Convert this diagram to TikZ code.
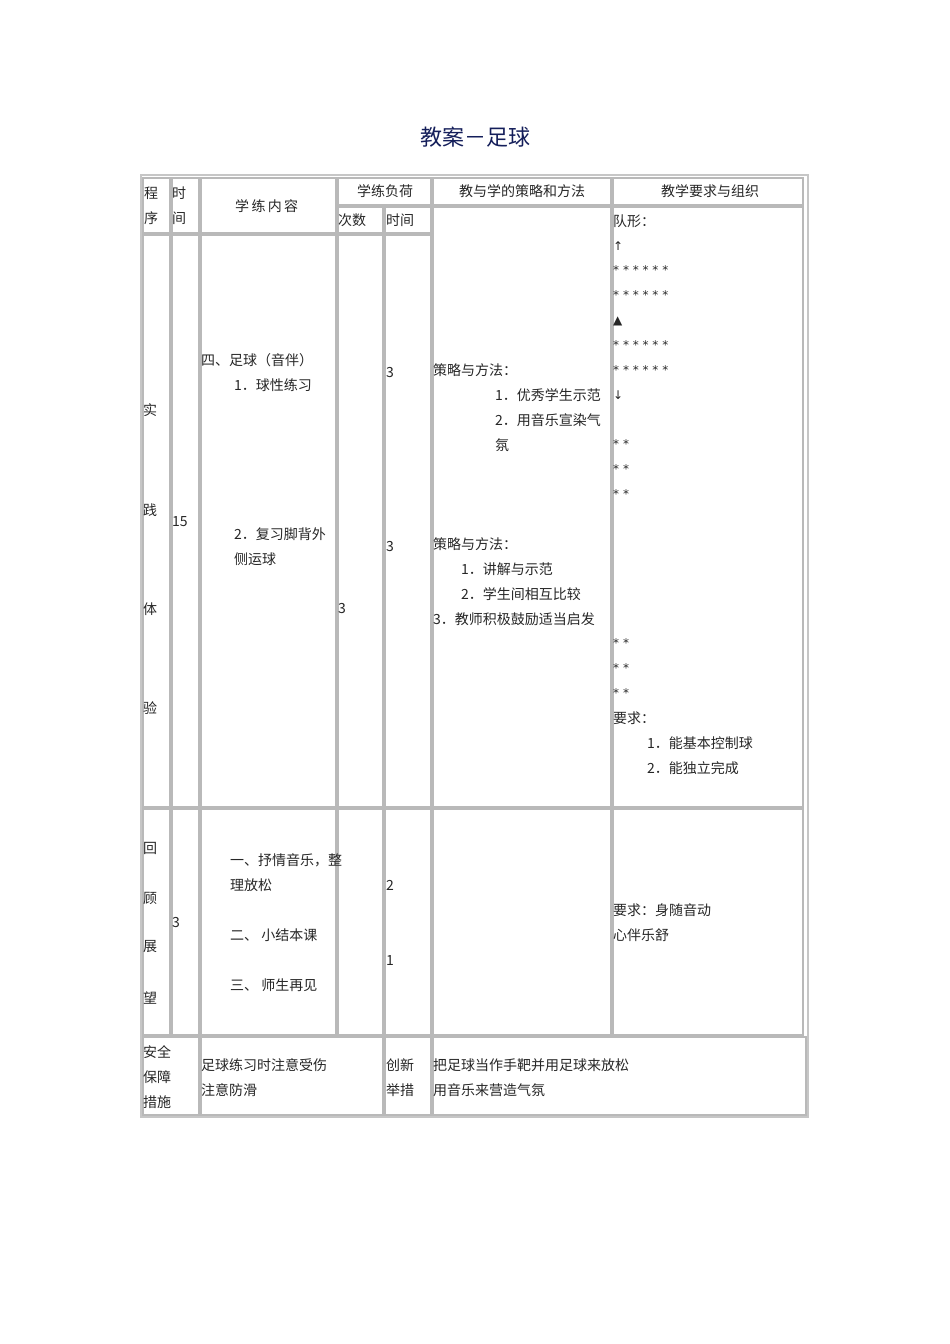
\documentclass[tikz,border=0pt]{standalone}
\usepackage{fontspec}
\setmainfont{Noto Sans CJK SC}
\newfontfamily\symf{DejaVu Sans}
\begin{document}
\begin{tikzpicture}[x=1pt,y=-1pt,
 cell/.style={draw=gray!55,line width=1.6pt},
 t/.style={anchor=west,inner sep=0pt,font=\fontsize{14}{16}\selectfont,text=black!85},
 st/.style={anchor=west,inner sep=0pt,font=\symf\fontsize{12}{14}\selectfont,text=black!85}]
\useasboundingbox (0,0) rectangle (950,1344);
\node[font=\fontsize{22}{25}\selectfont,text={rgb,255:red,20;green,30;blue,90}] (title) at (475,137) {教案－足球};
\draw[draw=gray!45,line width=1.2pt] (141,175) rectangle (808,1117);
\foreach \a/\b/\c/\d/\n in {143/178/170/233/h1,172/178/199/233/h2,201/178/336/233/h3,338/178/431/205/h4,338/207/383/233/h4a,385/207/431/233/h4b,433/178/611/205/h6,613/178/803/205/h7,433/207/611/807/b6,613/207/803/807/b7,
143/235/170/807/b1,172/235/199/807/b2,201/235/336/807/b3,338/235/383/807/b4,385/235/431/807/b5,
143/809/170/1035/c1,172/809/199/1035/c2,201/809/336/1035/c3,338/809/383/1035/c4,385/809/431/1035/c5,433/809/611/1035/c6,613/809/803/1035/c7,
143/1037/199/1115/d1,201/1037/383/1115/d3,385/1037/431/1115/d5,433/1037/806/1115/d6}
 \draw[cell] (\a,\b) rectangle (\c,\d) coordinate (\n);
\node[t] (x1) at (144,193) {程};
\node[t] (x2) at (144,218) {序};
\node[t] (x3) at (172,193) {时};
\node[t] (x4) at (172,218) {间};
\node[t] (x5) at (235,206) {学\,练\,内\,容};
\node[t] (x6) at (357,191) {学练负荷};
\node[t] (x7) at (338,220) {次数};
\node[t] (x8) at (386,220) {时间};
\node[t] (x9) at (459,191) {教与学的策略和方法};
\node[t] (x10) at (661,191) {教学要求与组织};
\foreach \y/\s in {410/实,510/践,609/体,708/验} \node[t] at (143,\y) {\s};
\node[t] (p1) at (172,522) {15};
\node[t] (p2) at (201,360) {四、足球（音伴）};
\node[t] (p3) at (234,385) {1．球性练习};
\node[t] (p4) at (234,534) {2．复习脚背外};
\node[t] (p5) at (234,559) {侧运球};
\node[t] (p6) at (338,609) {3};
\node[t] (p7) at (386,373) {3};
\node[t] (p8) at (386,547) {3};
\node[t] (q1) at (433,370) {策略与方法：};
\node[t] (q2) at (495,395) {1．优秀学生示范};
\node[t] (q3) at (495,420) {2．用音乐宣染气};
\node[t] (q4) at (495,445) {氛};
\node[t] (q5) at (433,544) {策略与方法：};
\node[t] (q6) at (461,569) {1．讲解与示范};
\node[t] (q7) at (461,594) {2．学生间相互比较};
\node[t] (q8) at (433,619) {3．教师积极鼓励适当启发};
\node[t] (r1) at (613,221) {队形：};
\node[st] (r2) at (613,246) {↑};
\foreach \y in {270,295,345,370} \node[st] at (613,\y) {* * * * * *};
\node[st] (r3) at (613,321) {▲};
\node[st] (r4) at (613,395) {↓};
\foreach \y in {444,469,494,643,668,693} \node[st] at (613,\y) {* *};
\node[t] (r5) at (613,718) {要求：};
\node[t] (r6) at (647,743) {1．能基本控制球};
\node[t] (r7) at (647,768) {2．能独立完成};
\foreach \y/\s in {848/回,898/顾,947/展,998/望} \node[t] at (143,\y) {\s};
\node[t] (s1) at (172,922) {3};
\node[t] (s2) at (230,860) {一、抒情音乐，整};
\node[t] (s3) at (230,885) {理放松};
\node[t] (s4) at (230,935) {二、\ 小结本课};
\node[t] (s5) at (230,985) {三、\ 师生再见};
\node[t] (s6) at (386,885) {2};
\node[t] (s7) at (386,960) {1};
\node[t] (s8) at (613,910) {要求：身随音动};
\node[t] (s9) at (613,935) {心伴乐舒};
\node[t] (u1) at (143,1052) {安全};
\node[t] (u2) at (143,1077) {保障};
\node[t] (u3) at (143,1102) {措施};
\node[t] (u4) at (201,1065) {足球练习时注意受伤};
\node[t] (u5) at (201,1090) {注意防滑};
\node[t] (u6) at (386,1065) {创新};
\node[t] (u7) at (386,1090) {举措};
\node[t] (u8) at (433,1065) {把足球当作手靶并用足球来放松};
\node[t] (u9) at (433,1090) {用音乐来营造气氛};
\end{tikzpicture}
\end{document}
